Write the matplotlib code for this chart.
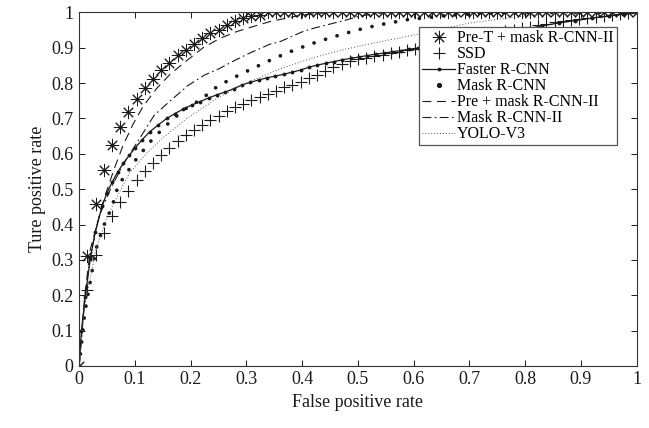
import numpy as np
import matplotlib
matplotlib.use("Agg")
import matplotlib.pyplot as plt
from matplotlib.lines import Line2D

plt.rcParams['font.family'] = ['Liberation Serif', 'DejaVu Serif']

# shared false-positive-rate grid used by the marker-only series
fpr_grid = np.linspace(0, 1, 69)

pret_tpr = [0.0, 0.31, 0.458, 0.555, 0.625, 0.676, 0.717, 0.756, 0.787, 0.812,
            0.838, 0.858, 0.88, 0.894, 0.911, 0.927, 0.942, 0.95, 0.963, 0.975,
            0.984, 0.99, 0.993, 1.0, 1.0, 1.0, 1.0, 1.0, 1.0, 1.0,
            1.0, 1.0, 1.0, 1.0, 1.0, 1.0, 1.0, 1.0, 1.0, 1.0,
            1.0, 1.0, 1.0, 1.0, 1.0, 1.0, 1.0, 1.0, 1.0, 1.0,
            1.0, 1.0, 1.0, 1.0, 1.0, 1.0, 1.0, 1.0, 1.0, 1.0,
            1.0, 1.0, 1.0, 1.0, 1.0, 1.0, 1.0, 1.0, 1.0]

ssd_tpr = [0.0, 0.215, 0.314, 0.377, 0.424, 0.465, 0.496, 0.526, 0.55, 0.573,
           0.597, 0.616, 0.635, 0.653, 0.668, 0.682, 0.696, 0.707, 0.72, 0.732,
           0.741, 0.752, 0.76, 0.769, 0.779, 0.788, 0.795, 0.804, 0.814, 0.823,
           0.835, 0.845, 0.855, 0.862, 0.867, 0.872, 0.876, 0.88, 0.885, 0.889,
           0.893, 0.897, 0.901, 0.906, 0.91, 0.915, 0.92, 0.924, 0.929, 0.933,
           0.938, 0.942, 0.947, 0.951, 0.956, 0.96, 0.964, 0.968, 0.972, 0.975,
           0.978, 0.981, 0.984, 0.987, 0.99, 0.993, 0.996, 0.998, 1.0]

faster_fpr = [0, 0.004, 0.011, 0.02, 0.029, 0.041, 0.05, 0.059, 0.069, 0.079,
              0.09, 0.1, 0.113, 0.127, 0.142, 0.157, 0.172, 0.187, 0.202, 0.217,
              0.232, 0.247, 0.262, 0.277, 0.292, 0.307, 0.322, 0.337, 0.352, 0.367,
              0.382, 0.397, 0.412, 0.427, 0.442, 0.457, 0.472, 0.487, 0.502, 0.517,
              0.532, 0.547, 0.562, 0.577, 0.592, 0.607, 0.65, 0.7, 0.75, 0.8,
              0.83, 0.86, 0.89, 0.92, 0.95, 0.975, 1.0]
faster_tpr = [0, 0.1, 0.196, 0.305, 0.38, 0.451, 0.49, 0.52, 0.548, 0.573,
              0.596, 0.616, 0.64, 0.663, 0.682, 0.7, 0.714, 0.727, 0.738, 0.748,
              0.758, 0.767, 0.775, 0.784, 0.795, 0.802, 0.809, 0.815, 0.82, 0.825,
              0.831, 0.837, 0.845, 0.851, 0.856, 0.861, 0.866, 0.87, 0.874, 0.878,
              0.882, 0.885, 0.889, 0.892, 0.896, 0.899, 0.91, 0.925, 0.938, 0.952,
              0.962, 0.97, 0.977, 0.984, 0.99, 0.995, 1.0]

mask_fpr = [0, 0.01, 0.03, 0.045, 0.059, 0.07, 0.085, 0.1, 0.13, 0.157, 0.187,
            0.217, 0.244, 0.27, 0.3, 0.336, 0.372, 0.414, 0.456, 0.498, 0.539,
            0.587, 0.65, 0.72, 0.8, 1.0]
mask_tpr = [0, 0.15, 0.33, 0.4, 0.451, 0.51, 0.545, 0.58, 0.639, 0.682, 0.724,
            0.752, 0.786, 0.81, 0.833, 0.86, 0.885, 0.91, 0.931, 0.95, 0.965,
            0.979, 0.99, 0.998, 1.0, 1.0]

pre_fpr = [0, 0.01, 0.02, 0.044, 0.062, 0.079, 0.097, 0.115, 0.139, 0.163, 0.19,
           0.222, 0.253, 0.283, 0.312, 0.342, 0.4, 0.45, 1.0]
pre_tpr = [0, 0.2, 0.33, 0.47, 0.554, 0.625, 0.685, 0.735, 0.785, 0.825, 0.86,
           0.9, 0.927, 0.946, 0.96, 0.974, 0.993, 1.0, 1.0]

maskii_fpr = [0, 0.01, 0.02, 0.035, 0.056, 0.079, 0.109, 0.135, 0.165, 0.195,
              0.225, 0.25, 0.28, 0.306, 0.342, 0.36, 0.4, 0.42, 0.48, 0.504,
              0.55, 1.0]
maskii_tpr = [0, 0.19, 0.31, 0.42, 0.5, 0.57, 0.645, 0.71, 0.752, 0.793,
              0.823, 0.84, 0.865, 0.885, 0.91, 0.917, 0.945, 0.955, 0.979, 0.99,
              1.0, 1.0]

yolo_fpr = [0, 0.01, 0.03, 0.05, 0.062, 0.09, 0.12, 0.15, 0.193, 0.25, 0.3,
            0.36, 0.42, 0.48, 0.54, 0.6, 0.7, 0.8, 0.9, 1.0]
yolo_tpr = [0, 0.17, 0.33, 0.42, 0.46, 0.545, 0.6, 0.645, 0.7, 0.76, 0.8,
            0.84, 0.872, 0.897, 0.917, 0.936, 0.97, 0.99, 1.0, 1.0]

ticks = [0, 0.1, 0.2, 0.3, 0.4, 0.5, 0.6, 0.7, 0.8, 0.9, 1]
tick_labels = ['0', '0.1', '0.2', '0.3', '0.4', '0.5', '0.6', '0.7', '0.8', '0.9', '1']
labels = ['Pre-T + mask R-CNN-II', 'SSD', 'Faster R-CNN', 'Mask R-CNN',
          'Pre + mask R-CNN-II', 'Mask R-CNN-II', 'YOLO-V3']

ink = '#1a1a1a'
light = '#555555'
dots = (0, (0.01, 3.2))

fig = plt.figure(figsize=(6.49, 4.28), dpi=100)
ax = fig.add_axes([0.122, 0.145, 0.859, 0.826])

ax.plot(fpr_grid, pret_tpr, linestyle='none', marker=(8, 2, 0), markersize=9.5,
        markeredgewidth=0.7, color=ink)
ax.plot(fpr_grid, ssd_tpr, linestyle='none', marker='+', markersize=9,
        markeredgewidth=0.8, color=ink)
ax.plot(faster_fpr, faster_tpr, '-', marker='.', markersize=3.5, lw=0.9, color=ink)
ax.plot(mask_fpr, mask_tpr, linestyle=dots, dash_capstyle='round',
        lw=2.7, color=ink)
ax.plot(pre_fpr, pre_tpr, linestyle=(0, (8, 5)), lw=0.8, color=ink)
ax.plot(maskii_fpr, maskii_tpr, linestyle=(0, (8, 3, 1.5, 3)), lw=0.8, color=ink)
ax.plot(yolo_fpr, yolo_tpr, linestyle=(0, (1, 2)), lw=0.7, color=light)

ax.set_xlim(0, 1)
ax.set_ylim(0, 1)
ax.set_xticks(ticks)
ax.set_xticklabels(tick_labels)
ax.set_yticks(ticks)
ax.set_yticklabels(tick_labels)
ax.tick_params(direction='in', length=4, width=0.7, top=True, right=True,
               labelsize=13, colors=ink, pad=4)
for s in ax.spines.values():
    s.set_linewidth(0.8)
    s.set_color('#333333')

ax.set_xlabel('False positive rate', fontsize=13, color=ink, labelpad=4)
ax.set_ylabel('Ture positive rate', fontsize=13, color=ink, labelpad=4)

# proxy handles so each legend entry shows one symbol like the original
handles = [
    Line2D([], [], linestyle='none', marker=(8, 2, 0), markersize=9.5,
           markeredgewidth=0.7, color=ink),
    Line2D([], [], linestyle='none', marker='+', markersize=9,
           markeredgewidth=0.8, color=ink),
    Line2D([], [], linestyle='-', marker='.', markersize=3.5, lw=0.9,
           color=ink, markevery=[1]),
    Line2D([], [], linestyle='none', marker='.', markersize=5.5, color=ink),
    Line2D([], [], linestyle=(0, (8, 5)), lw=0.8, color=ink),
    Line2D([], [], linestyle=(0, (8, 3, 1.5, 3)), lw=0.8, color=ink),
    Line2D([], [], linestyle=(0, (1, 2)), lw=0.7, color=light),
]
leg = ax.legend(handles, labels, loc='upper right', bbox_to_anchor=(0.964, 0.959),
                borderaxespad=0, fontsize=11.5, frameon=True, fancybox=False,
                framealpha=1, edgecolor='#555555', handlelength=2.1,
                handletextpad=0.1, labelspacing=0.0, borderpad=0.2)
leg.get_frame().set_linewidth(0.9)

fig.savefig('out.png', dpi=100)
